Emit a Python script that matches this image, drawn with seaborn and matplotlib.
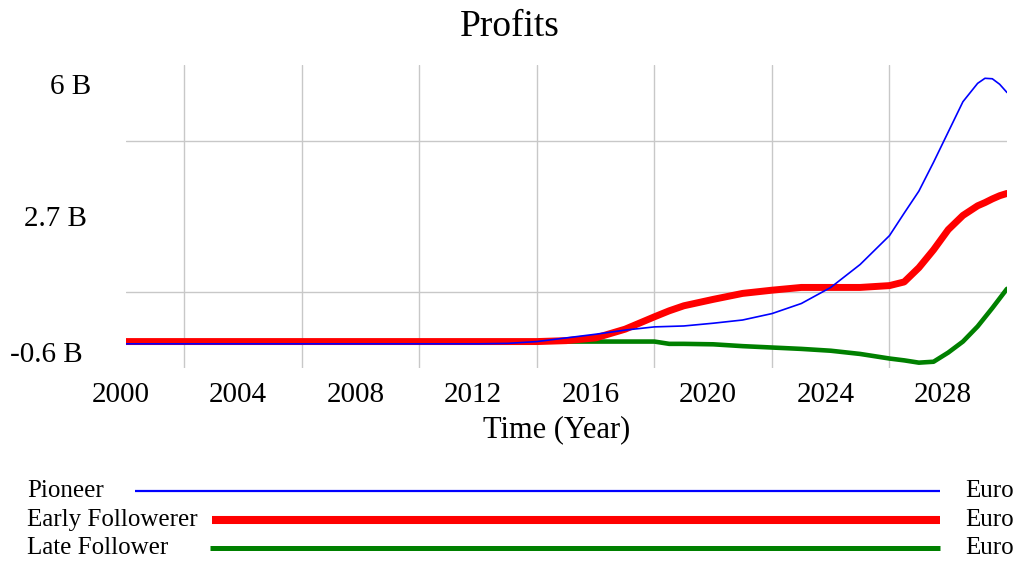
import numpy as np
import pandas as pd
import matplotlib
matplotlib.use("Agg")
import matplotlib.pyplot as plt
import matplotlib.transforms as mtransforms
from matplotlib.lines import Line2D
import seaborn as sns

# ---- data (values in billions of Euro) ----
years = [2000, 2012, 2013, 2014, 2015, 2016, 2017, 2018, 2018.5, 2019, 2020, 2021,
         2022, 2023, 2024, 2025, 2026, 2026.5, 2027, 2027.5, 2028, 2028.5, 2029,
         2029.25, 2029.5, 2029.75, 2030]
pioneer = [-0.08, -0.08, -0.07, -0.03, 0.05, 0.13, 0.22, 0.29, 0.30, 0.31, 0.37, 0.44,
           0.58, 0.80, 1.15, 1.65, 2.28, 2.77, 3.25, 3.88, 4.54, 5.20, 5.60,
           5.71, 5.70, 5.58, 5.40]
early_follower = [-0.03, -0.03, -0.03, -0.03, -0.01, 0.05, 0.24, 0.51, 0.64, 0.75, 0.89, 1.02,
                  1.09, 1.15, 1.15, 1.15, 1.19, 1.27, 1.58, 1.97, 2.41, 2.72, 2.93,
                  3.00, 3.08, 3.15, 3.20]
late_follower = [-0.03, -0.03, -0.03, -0.03, -0.03, -0.03, -0.03, -0.03, -0.08, -0.08, -0.09, -0.13,
                 -0.16, -0.19, -0.23, -0.30, -0.40, -0.44, -0.49, -0.47, -0.27, -0.03, 0.30,
                 0.50, 0.70, 0.91, 1.12]

series_names = ["Pioneer", "Early Followerer", "Late Follower"]
series_units = ["Euro", "Euro", "Euro"]
y_tick_values = [-0.6, 2.7, 6]
y_tick_labels = ["-0.6 B", "2.7 B", "6 B"]
x_tick_values = [2000, 2004, 2008, 2012, 2016, 2020, 2024, 2028]

colors = {"Pioneer": "#0000ff", "Early Followerer": "#ff0000", "Late Follower": "#008000"}
widths = {"Pioneer": 1.2, "Early Followerer": 5.0, "Late Follower": 3.3}
zorders = {"Pioneer": 5, "Early Followerer": 4, "Late Follower": 3}
legend_widths = {"Pioneer": 1.6, "Early Followerer": 5.8, "Late Follower": 3.6}

df = pd.DataFrame({
    "Year": years * 3,
    "Value": pioneer + early_follower + late_follower,
    "Series": sum([[n] * len(years) for n in series_names], []),
})

sns.set_theme(style="white")
plt.rcParams["font.family"] = ["Liberation Serif", "DejaVu Serif"]
plt.rcParams["text.color"] = "black"
plt.rcParams["axes.labelcolor"] = "black"
plt.rcParams["xtick.color"] = "black"
plt.rcParams["ytick.color"] = "black"

W, H = 1018, 561
fig = plt.figure(figsize=(W / 100, H / 100), dpi=100)
left, right, top, bottom = 125.7, 1007, 65, 367.7
ax = fig.add_axes([left / W, 1 - bottom / H, (right - left) / W, (bottom - top) / H])

for name in series_names:
    sub = df[df["Series"] == name]
    sns.lineplot(data=sub, x="Year", y="Value", ax=ax, color=colors[name],
                 linewidth=widths[name], legend=False, estimator=None, sort=False,
                 zorder=zorders[name])

ax.set_xlim(2000, 2030)
ax.set_ylim(-0.6, 6)
for s in ax.spines.values():
    s.set_visible(False)

ax.set_xticks(x_tick_values)
ax.set_xticklabels([str(v) for v in x_tick_values], fontsize=21)
ax.set_xticks(np.arange(2002, 2030, 2), minor=True)
ax.set_yticks(y_tick_values)
ax.set_yticklabels(y_tick_labels, fontsize=21)
ax.set_yticks([1.05, 2.7, 4.35], minor=True)
ax.grid(False)
ax.grid(True, which="minor", color="#c8c8c8", linewidth=1.0)
ax.tick_params(which="both", length=0)
ax.tick_params(axis="x", pad=10)
ax.tick_params(axis="y", pad=31)

# shift y labels as in reference
for lab, val in zip(ax.get_yticklabels(), y_tick_values):
    dx, dy = 0, 0
    if val == 6:
        dx, dy = 8, -19
    elif val == 2.7:
        dx, dy = 4, 0
    elif val == -0.6:
        dx, dy = 0, 16
    lab.set_transform(lab.get_transform() + mtransforms.ScaledTranslation(dx / 100, dy / 100, fig.dpi_scale_trans))
for lab in ax.get_xticklabels():
    lab.set_transform(lab.get_transform() + mtransforms.ScaledTranslation(-5 / 100, 0, fig.dpi_scale_trans))

ax.set_xlabel("Time (Year)", fontsize=22)
ax.xaxis.set_label_coords((557 - left) / (right - left), -(430 - bottom) / (bottom - top))
ax.xaxis.label.set_va("center")
ax.set_ylabel("")
fig.text(510 / W, 1 - 27 / H, "Profits", ha="center", va="center", fontsize=27)

# legend rows
rows_y = [491, 520, 548]
line_starts = [135, 212, 210]
for name, unit, yy, xs in zip(series_names, series_units, rows_y, line_starts):
    fy = 1 - yy / H
    fig.text(27 / W, fy, name, ha="left", va="center", fontsize=18)
    fig.add_artist(Line2D([xs / W, 940 / W], [fy, fy], transform=fig.transFigure,
                          color=colors[name], linewidth=legend_widths[name], solid_capstyle="butt"))
    fig.text(965 / W, fy, unit, ha="left", va="center", fontsize=18)

fig.savefig("out.png", dpi=100)
